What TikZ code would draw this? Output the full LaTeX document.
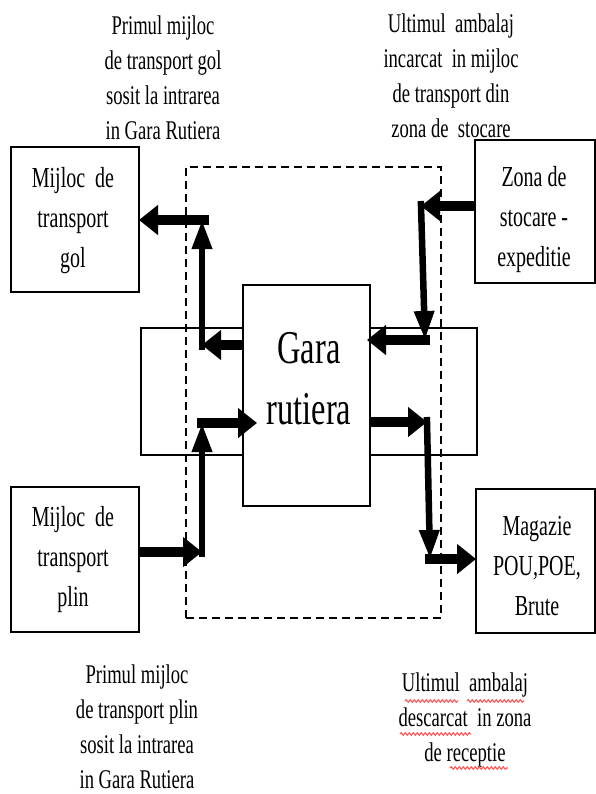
\documentclass[tikz,border=0pt]{standalone}
\usepackage{fontspec}
\setmainfont{Liberation Serif}[FakeStretch=0.69]
\usetikzlibrary{arrows.meta,decorations.pathmorphing}

\begin{document}
\begin{tikzpicture}[x=1pt,y=-1pt,
  box/.style={draw,line width=1.2pt,inner sep=0pt,outer sep=0pt},
  txt/.style={align=center,inner sep=0pt,font=\fontsize{27}{35}\selectfont},
  boxtxt/.style={align=center,inner sep=0pt,font=\fontsize{29}{40}\selectfont},
  bigtxt/.style={align=center,inner sep=0pt,font=\fontsize{47}{61}\selectfont},
  harrow/.style={line width=9.5pt,-{Triangle[length=19pt,width=29pt]}},
  varrow/.style={line width=6.5pt,-{Triangle[length=29pt,width=19pt]}},
  spell/.style={red!65,line width=1.1pt,decorate,
    decoration={snake,segment length=4pt,amplitude=1.3pt}}
]
\useasboundingbox (0,0) rectangle (596,794);

% central band, dashed terminal frame and the station block
\node[box,minimum width=336pt,minimum height=127pt] (hub) at (309,391.5) {};
\node[box,dashed,dash pattern=on 8pt off 5pt,minimum width=255pt,minimum height=451pt] (frame) at (313.5,392.5) {};
\node[box,fill=white,minimum width=127pt,minimum height=221pt] (gara) at (306.5,395.5) {};
\node[bigtxt] (garat) at (309,379) {Gara\\rutiera};

% outer blocks
\node[box,minimum width=128pt,minimum height=145pt] (gol) at (75,219.5) {};
\node[box,fill=white,minimum width=120pt,minimum height=143pt] (stoc) at (535,211.5) {};
\node[box,minimum width=128pt,minimum height=145pt] (plin) at (75,559.5) {};
\node[box,minimum width=119pt,minimum height=144pt] (mag) at (535.5,561) {};

\node[boxtxt] (golt) at (73,221) {Mijloc\ \ de\\transport\\gol};
\node[boxtxt] (stoct) at (534,220) {Zona de\\stocare -\\expeditie};
\node[boxtxt] (plint) at (73,560) {Mijloc\ \ de\\transport\\plin};
\node[boxtxt] (magt) at (537,566) {Magazie\\POU,POE,\\Brute};

% captions
\node[txt] (capa) at (163,78) {Primul mijloc\\de transport gol\\sosit la intrarea\\in Gara Rutiera};
\node[txt] (capb) at (451,76) {Ultimul\ \ ambalaj\\incarcat\ \ in mijloc\\de transport din\\zona de\ \ stocare};
\node[txt] (capc) at (137,727) {Primul mijloc\\de transport plin\\sosit la intrarea\\in Gara Rutiera};
\node[txt] (capd) at (465,720) {Ultimul\ \ ambalaj\\descarcat\ \ in zona\\de receptie};

% spell-check marks under the last caption
\draw[spell] (405,701) -- (458,701);
\draw[spell] (467,701) -- (524,701);
\draw[spell] (400,734) -- (471,734);
\draw[spell] (450,768) -- (508,768);

% bend points of the flows
\coordinate (a1) at (202,345);
\coordinate (a2) at (202,220);
\coordinate (b1) at (421,206);
\coordinate (b2) at (425,340);
\coordinate (c1) at (202,552);
\coordinate (c2) at (202,423);
\coordinate (d1) at (427,422);
\coordinate (d2) at (430,559);

% empty vehicle leaving the station
\draw[harrow] (gara.west |- a1) -- (a1);
\draw[varrow,shorten <=-5pt] (a1) -- (a2);
\draw[harrow,shorten <=-7pt] (a2) -- (gol.east |- a2);

% loaded goods from storage into the station
\draw[harrow] (stoc.west |- b1) -- (b1);
\draw[varrow,shorten <=-5pt] (b1) -- (b2);
\draw[harrow,shorten <=-5pt,shorten >=-3pt] (b2) -- (gara.east |- b2);

% loaded vehicle arriving
\draw[harrow] (plin.east |- c1) -- (c1);
\draw[varrow,shorten <=-5pt] (c1) -- (c2);
\draw[harrow,shorten <=-5pt,shorten >=-14pt] (c2) -- (gara.west |- c2);

% unloaded goods to the warehouse
\draw[harrow] (gara.east |- d1) -- (d1);
\draw[varrow,shorten <=-5pt] (d1) -- (d2);
\draw[harrow,shorten <=-5pt] (d2) -- (mag.west |- d2);
\end{tikzpicture}
\end{document}
